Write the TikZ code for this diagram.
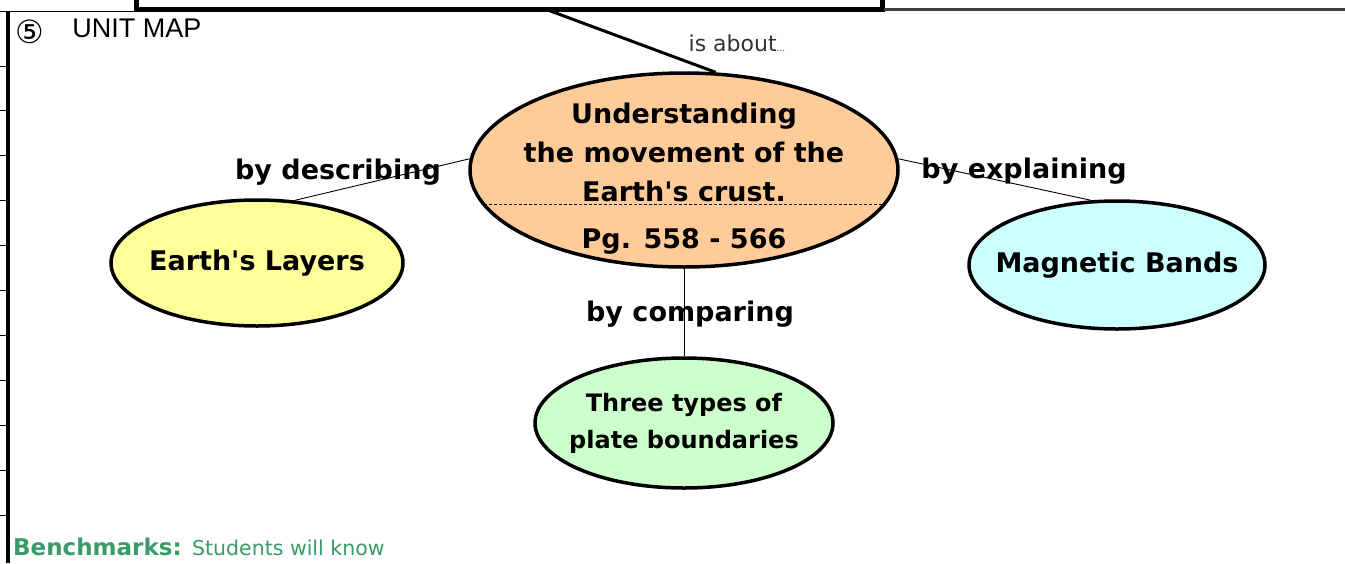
\documentclass[tikz,border=0pt]{standalone}
\usepackage{fontspec}
\setmainfont{DejaVu Sans}
\newfontfamily\thinfont{Liberation Sans}
\usetikzlibrary{positioning,shapes.geometric,calc}
\definecolor{ink}      {HTML}{000000}
\definecolor{peach}    {HTML}{FFCC99}
\definecolor{lemon}    {HTML}{FFFF99}
\definecolor{aqua}     {HTML}{CCFFFF}
\definecolor{leaf}     {HTML}{CCFFCC}
\definecolor{bench}    {HTML}{3A9A68}
\definecolor{softink}  {HTML}{333333}
\newcommand{\fsz}[2]{\fontsize{#1pt}{#2pt}\selectfont}
\newcommand{\apos}{\textquotesingle}
\tikzset{
  % --- nodes
  bubble/.style = {ellipse, draw=ink, line width=3.5pt, inner xsep=-20pt, inner ysep=-10pt,
                   align=center, font=\fsz{27}{39}\bfseries},
  topic/.style  = {bubble, fill=peach, minimum width=428pt, minimum height=194pt,
                   inner ysep=-28pt},
  layer/.style  = {bubble, fill=lemon, minimum width=292pt, minimum height=126pt},
  band/.style   = {bubble, fill=aqua, minimum width=296pt, minimum height=128pt},
  plate/.style  = {bubble, fill=leaf, minimum width=298pt, minimum height=130pt,
                   font=\fsz{24}{37}\bfseries},
  link/.style   = {font=\fsz{27}{27}\bfseries, inner sep=0pt},
  head/.style   = {font=\thinfont\fsz{27}{27}, inner sep=0pt},
  % --- edges
  e/.style      = {draw=ink, line width=0.9pt},
  efat/.style   = {draw=ink, line width=3pt},
}

\begin{document}
\begin{tikzpicture}[x=1pt, y=-1pt]
  \useasboundingbox (0,0) rectangle (1345,563);

  % ------------------------------------------------------------------ sheet
  \draw[line width=5pt] (136,-6) |- (882,9) -- (882,-6);
  \draw[line width=1.2pt] (0,11.5) -- (134,11.5);
  \draw[line width=3pt, black!75] (884,9) -- (1345,9);
  \draw[line width=4pt] (7.5,11) -- (7.5,563);
  \foreach \t in {66,110,155,200,245,290,335,380,425,470,515}
    \draw[line width=1pt] (0,\t) -- (7,\t);
  \coordinate (sheet) at (545,9);

  \node[inner sep=0pt, font=\fsz{32}{32}] (num) at (30,32) {⑤};
  \node[head] (title) at (137,28) {UNIT MAP};

  % ------------------------------------------------------------------ topic
  \node[topic] (topic) at (684,170) {%
    \rule{0pt}{37pt}Understanding\\the movement of the\\Earth\apos s crust.\\[8pt]Pg. 558 - 566};
  \draw[e, line width=0.6pt, dash pattern=on 3pt off 2pt]
    ($(topic.center)+(-200,34)$) -- ($(topic.center)+(200,34)$);

  % ------------------------------------------------------------------ children
  \node[layer] (layers) at (257,263) {Earth\apos s Layers};
  \node[band]  (bands)  at (1117,265) {Magnetic Bands};
  \node[plate] (plates) at (684,423) {Three types of\\plate boundaries};

  % ------------------------------------------------------------------ links
  \draw[efat] (sheet) -- (topic.72);
  \node[font=\fsz{22}{22}, text=softink, inner sep=0pt] (about) at (737,43)
    {is about{\fsz{9}{9}...}};

  \draw[e] (topic.177) -- (layers.59);
  \node[link] (describe) at (338,172) {by describing};

  \draw[e] (topic.3) -- (bands.112);
  \node[link] (explain) at (1024,171) {by explaining};

  \draw[e] (topic.south) -- (plates.north);
  \node[link] (compare) at (690,314) {by comparing};

  % ------------------------------------------------------------------ footer
  \node[anchor=base west, inner sep=0pt, text=bench, font=\fsz{23}{23}\bfseries]
    (bench) at (13,555) {Benchmarks:};
  \node[inner sep=0pt, text=bench, font=\fsz{20.5}{20.5},
        right=10pt of bench.base east, anchor=base west] (know) {Students will know};
\end{tikzpicture}
\end{document}
